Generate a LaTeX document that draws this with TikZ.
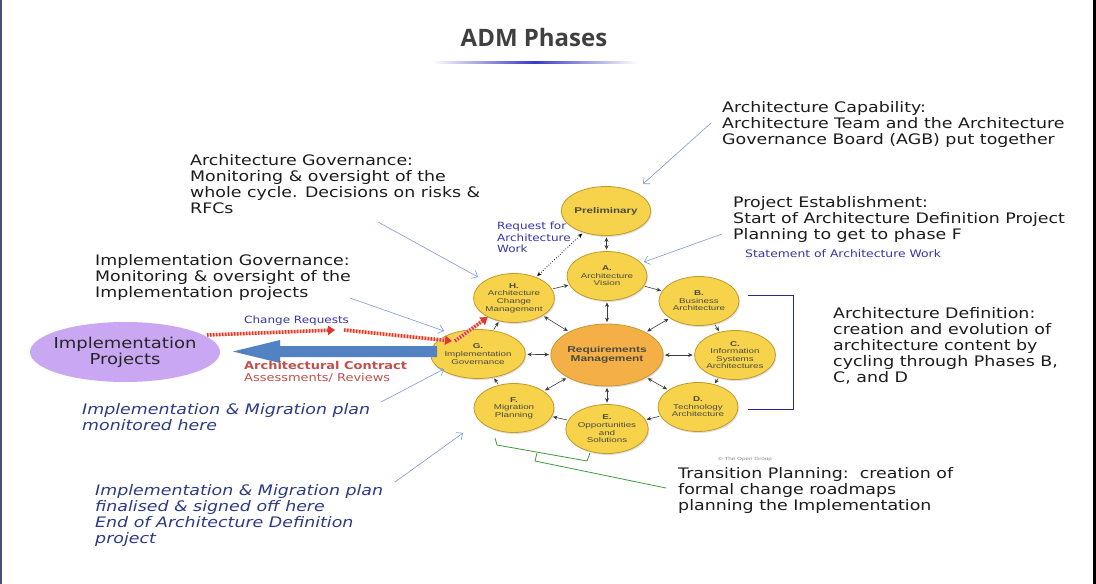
\documentclass[tikz,border=0pt]{standalone}
\usepackage{fontspec}
\setmainfont[FakeStretch=1.2]{DejaVu Sans}
\newfontfamily\phasefont[FakeStretch=1.4]{Liberation Sans}
\newfontfamily\titlefont{Open Sans}
\usetikzlibrary{shapes.geometric,arrows.meta,positioning,shadows}

\definecolor{phasefill}{HTML}{F7D34C}
\definecolor{phaseedge}{HTML}{C29A2C}
\definecolor{reqfill}{HTML}{F4B046}
\definecolor{phasetext}{HTML}{4A4A40}
\definecolor{notetext}{HTML}{1C1C1C}
\definecolor{labelblue}{HTML}{3535A5}
\definecolor{planblue}{HTML}{2C3A86}
\definecolor{pointerblue}{HTML}{7C9BD6}
\definecolor{arrowgray}{HTML}{3C3C3C}
\definecolor{bracketnavy}{HTML}{2B2B80}
\definecolor{bracketgreen}{HTML}{3E9A3E}
\definecolor{crred}{HTML}{E0382C}
\definecolor{crpink}{HTML}{F8C8B8}
\definecolor{contractblue}{HTML}{5282C2}
\definecolor{contractred}{HTML}{C0504D}
\definecolor{projfill}{HTML}{C9A7F2}

\tikzset{
  phase/.style={ellipse, draw=phaseedge, fill=phasefill, line width=0.8pt,
    minimum width=80pt, minimum height=49pt, inner sep=0pt, align=center,
    text=phasetext, font=\phasefont\fontsize{7}{7.6}\selectfont,
    drop shadow={shadow xshift=1pt, shadow yshift=-1.5pt, opacity=0.25}},
  note/.style={anchor=north west, inner sep=0pt, align=left, text=notetext,
    font=\fontsize{14.5}{16}\selectfont},
  plannote/.style={note, text=planblue, font=\itshape\fontsize{14.5}{16}\selectfont},
  bluelabel/.style={inner sep=0pt, align=left, text=labelblue},
  cyc/.style={-{Stealth[length=4.5pt,width=4pt]}, draw=arrowgray, line width=0.6pt,
    shorten >=1pt, shorten <=1pt},
  both/.style={{Stealth[length=4.5pt,width=4pt]}-{Stealth[length=4.5pt,width=4pt]},
    draw=arrowgray, line width=0.6pt, shorten >=1.5pt, shorten <=1.5pt},
  pointer/.style={draw=pointerblue, line width=0.6pt,
    -{Straight Barb[length=5pt,width=9pt]}},
  crq/.style={draw=crred, line width=3.5pt, dash pattern=on 1.5pt off 1.5pt,
    -{Triangle[length=7pt,width=9pt]},
    preaction={draw=crpink, solid, line width=3.5pt}}
}

\begin{document}
\begin{tikzpicture}[x=1pt,y=-1pt]
\useasboundingbox (0,0) rectangle (1096,584);
\fill[white] (0,0) rectangle (1096,584);
\fill[black!60!blue!40!gray] (0,0) rectangle (1.5,584);
\fill[black] (1092.5,0) rectangle (1096,584);

% title
\node[font=\titlefont\bfseries\fontsize{24}{28}\selectfont, text=black!75] (title) at (534,37) {ADM Phases};
\shade[left color=white, right color=white, middle color=blue!55!gray] (432,61) rectangle (637,63);

% ADM cycle
\node[phase, font=\phasefont\bfseries\fontsize{8.3}{9}\selectfont] (prelim) at (606,211) {Preliminary};
\node[phase] (phaseA) at (607,276) {\textbf{A.}\\Architecture\\Vision};
\node[phase] (phaseB) at (699,301) {\textbf{B.}\\Business\\Architecture};
\node[phase] (phaseC) at (735,355) {\textbf{C.}\\Information\\Systems\\Architectures};
\node[phase] (phaseD) at (698,407) {\textbf{D.}\\Technology\\Architecture};
\node[phase] (phaseE) at (607,429) {\textbf{E.}\\Opportunities\\and\\Solutions};
\node[phase] (phaseF) at (514,408) {\textbf{F.}\\Migration\\Planning};
\node[phase] (phaseG) at (478,354) {\textbf{G.}\\Implementation\\Governance};
\node[phase] (phaseH) at (514,298) {\textbf{H.}\\Architecture\\Change\\Management};
\node[phase, fill=reqfill, minimum width=102pt, minimum height=62pt,
  font=\phasefont\bfseries\fontsize{8.5}{9}\selectfont] (reqmgmt) at (607,355) {Requirements\\Management};

\draw[cyc] (phaseA) -- (phaseB);
\draw[cyc] (phaseB) -- (phaseC);
\draw[cyc] (phaseC) -- (phaseD);
\draw[cyc] (phaseD) -- (phaseE);
\draw[cyc] (phaseE) -- (phaseF);
\draw[cyc] (phaseF) -- (phaseG);
\draw[cyc] (phaseG) -- (phaseH);
\draw[cyc] (phaseH) -- (phaseA);
\foreach \p in {A,B,C,D,E,F,G,H}
  \draw[both] (reqmgmt) -- (phase\p);
\draw[both] (prelim) -- (phaseA);
\draw[both, draw=black, dotted, line width=0.9pt] (phaseH) -- (prelim);

\node[bluelabel, anchor=north west, font=\fontsize{10}{11.5}\selectfont] (reqwork) at (497,222) {Request for\\Architecture\\Work};
\node[anchor=west, inner sep=0pt, text=black!45, font=\phasefont\fontsize{4.5}{5}\selectfont] (copy) at (718,459) {\textcopyright{} The Open Group};

% brackets
\draw[bracketnavy, line width=0.8pt] (748,295) -| (793,409) -- (748,409);
\draw[bracketgreen, line width=0.8pt] (495,438) -- (497,445) -- (587,461) -- (590,453);
\coordinate (greentail) at (666,488);
\draw[bracketgreen, line width=0.8pt] (537,453) -- (535,461) -- (greentail);

% implementation projects
\node[ellipse, fill=projfill, minimum width=190pt, minimum height=60pt, inner xsep=-14pt, inner ysep=0pt,
  align=center, font=\fontsize{15}{16}\selectfont, text=black!85] (implproj) at (125,352) {Implementation\\Projects};

\coordinate (crA) at (207,335);
\coordinate (crB) at (335,330);
\coordinate (crC) at (344,330);
\coordinate (crD) at (452,341);
\coordinate (crE) at (455,341);
\draw[crq] (crA) -- (crB);
\draw[crq] (crC) -- (crD);
\draw[crq] (crE) -- (phaseH);
\node[bluelabel, anchor=west, font=\fontsize{10}{12}\selectfont] (chreq) at (244,321) {Change Requests};

\fill[contractblue] (437,346) -- (280,346) -- (280,340) -- (233,351.5) -- (280,363) -- (280,357) -- (437,357) -- cycle;
\node[anchor=north west, inner sep=0pt, align=left, text=contractred, font=\fontsize{10.8}{12}\selectfont] (contract) at (244,361)
  {\textbf{Architectural Contract}\\Assessments/ Reviews};

% annotations
\node[note] (capability) at (722,101) {Architecture Capability:\\Architecture Team and the Architecture\\Governance Board (AGB) put together};
\node[note] (establish) at (733,196) {Project Establishment:\\Start of Architecture Definition Project\\Planning to get to phase F};
\node[bluelabel, anchor=west, font=\fontsize{10.3}{12}\selectfont] (sow) at (745,254) {Statement of Architecture Work};
\node[note] (archgov) at (190,154) {Architecture Governance:\\Monitoring \& oversight of the\\whole cycle. Decisions on risks \&\\RFCs};
\node[note] (implgov) at (95,254) {Implementation Governance:\\Monitoring \& oversight of the\\Implementation projects};
\node[note] (archdef) at (833,307) {Architecture Definition:\\creation and evolution of\\architecture content by\\cycling through Phases B,\\C, and D};
\node[note] (transition) at (678,467) {Transition Planning:\ \ creation of\\formal change roadmaps\\planning the Implementation};
\node[plannote] (monitored) at (82,403) {Implementation \& Migration plan\\monitored here};
\node[plannote] (signedoff) at (95,484) {Implementation \& Migration plan\\finalised \& signed off here\\End of Architecture Definition\\project};

\coordinate (capfrom) at (711,123);
\coordinate (capto) at (643,184);
\draw[pointer] (capfrom) -- (capto);
\coordinate (estfrom) at (722,234);
\coordinate (estto) at (644,262);
\draw[pointer] (estfrom) -- (estto);
\coordinate (govfrom) at (378,222);
\coordinate (govto) at (478,277);
\draw[pointer] (govfrom) -- (govto);
\coordinate (igovfrom) at (350,298);
\coordinate (igovto) at (444,331);
\draw[pointer] (igovfrom) -- (igovto);
\coordinate (monfrom) at (381,402);
\coordinate (monto) at (444,369);
\draw[pointer] (monfrom) -- (monto);
\coordinate (sigfrom) at (395,482);
\coordinate (sigto) at (463,433);
\draw[pointer] (sigfrom) -- (sigto);
\end{tikzpicture}
\end{document}
